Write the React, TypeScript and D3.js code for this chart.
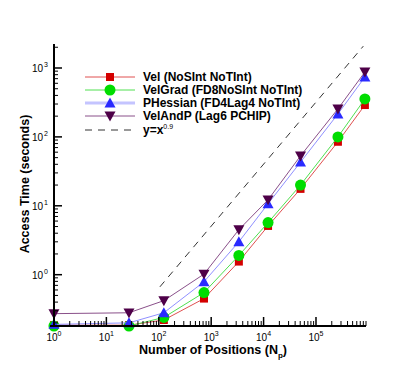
import * as d3 from 'd3';
import React from 'react';

const W = 415;
const H = 369;

// number of positions (x) and access time in seconds for each series
const positions = [1, 27, 125, 729, 3375, 12167, 50653, 262144, 857375];
const velTimes = [0.185, 0.185, 0.22, 0.45, 1.55, 5.1, 17.6, 85, 290];
const velGradTimes = [0.18, 0.18, 0.24, 0.55, 1.9, 5.7, 20, 100, 355];
const pHessianTimes = [0.19, 0.2, 0.28, 0.79, 3.0, 10.7, 43, 215, 740];
const velAndPTimes = [0.272, 0.28, 0.42, 1.02, 4.5, 12.2, 53, 255, 875];

const seriesLabels = [
  'Vel (NoSInt NoTInt)',
  'VelGrad (FD8NoSInt NoTInt)',
  'PHessian (FD4Lag4 NoTInt)',
  'VelAndP (Lag6 PCHIP)',
];

// reference curve y = c * x^0.9
const refCoef = 0.0101;
const refExp = 0.9;
const refRange = [105, 800000];

const xDecades = [0, 1, 2, 3, 4, 5];
const yDecades = [0, 1, 2, 3];

const FONT = '"Liberation Sans", Arial, Helvetica, sans-serif';

type Series = {
  label: string;
  values: number[];
  line: string;
  lineWidth: number;
  marker: string;
  shape: 'square' | 'circle' | 'up' | 'down';
};

const series: Series[] = [
  { label: seriesLabels[0], values: velTimes, line: '#e05050', lineWidth: 1, marker: '#d40000', shape: 'square' },
  { label: seriesLabels[1], values: velGradTimes, line: '#50e050', lineWidth: 1, marker: '#00dd00', shape: 'circle' },
  { label: seriesLabels[2], values: pHessianTimes, line: '#9090ff', lineWidth: 1, marker: '#2a2aff', shape: 'up' },
  { label: seriesLabels[3], values: velAndPTimes, line: '#8a508a', lineWidth: 1, marker: '#4e0048', shape: 'down' },
];

function Marker({ shape, x, y, color }: { shape: Series['shape']; x: number; y: number; color: string }) {
  if (shape === 'square') {
    return <rect x={x - 4} y={y - 4} width={8} height={8} fill={color} />;
  }
  if (shape === 'circle') {
    return <circle cx={x} cy={y} r={5.5} fill={color} />;
  }
  const s = 5.5;
  const pts =
    shape === 'up'
      ? `${x},${y - s} ${x + s},${y + s * 0.8} ${x - s},${y + s * 0.8}`
      : `${x},${y + s} ${x + s},${y - s * 0.8} ${x - s},${y - s * 0.8}`;
  return <polygon points={pts} fill={color} />;
}

export default function App() {
  const left = 54;
  const x = d3.scaleLog().domain([0.84, 900000]).range([50, 366]);
  const y = d3.scaleLog().domain([0.18, 2230]).range([326, 44]);

  const line = d3
    .line<[number, number]>()
    .x((d) => x(d[0]))
    .y((d) => y(d[1]));

  const refPts: [number, number][] = refRange.map((v) => [v, refCoef * Math.pow(v, refExp)]);

  const xMinor: number[] = [];
  xDecades.forEach((e) => {
    for (let k = 2; k <= 9; k++) {
      const v = k * Math.pow(10, e);
      if (v <= 900000) xMinor.push(v);
    }
  });
  const yMinor: number[] = [];
  [-1, ...yDecades].forEach((e) => {
    for (let k = 2; k <= 9; k++) {
      const v = k * Math.pow(10, e);
      if (v >= 0.18 && v <= 2230) yMinor.push(v);
    }
  });

  const legX0 = 85;
  const legX1 = 135;
  const legRows = [77, 90, 103, 116, 130];

  return (
    <svg
      width={W}
      height={H}
      style={{ position: 'absolute', left: 0, top: 0, background: '#fff' }}
      fontFamily={FONT}
    >
      {/* reference dashed line */}
      <path d={line(refPts) ?? ''} fill="none" stroke="#333" strokeWidth={1} strokeDasharray="7,6" />

      {/* series */}
      {series.map((s) => {
        const pts: [number, number][] = positions.map((p, i) => [p, s.values[i]]);
        return (
          <g key={s.label}>
            <path d={line(pts) ?? ''} fill="none" stroke={s.line} strokeWidth={s.lineWidth} />
            {pts.map((p, i) => (
              <Marker key={i} shape={s.shape} x={x(p[0])} y={y(p[1])} color={s.marker} />
            ))}
          </g>
        );
      })}

      {/* axes */}
      <line x1={left} x2={left} y1={44} y2={327} stroke="#000" strokeWidth={2} />
      <line x1={50} x2={366} y1={326} y2={326} stroke="#000" strokeWidth={2} />

      {xMinor.map((v) => (
        <line key={`xm${v}`} x1={x(v)} x2={x(v)} y1={326} y2={321} stroke="#000" strokeWidth={1} />
      ))}
      {xDecades.map((e) => (
        <g key={`xt${e}`}>
          <line x1={x(Math.pow(10, e))} x2={x(Math.pow(10, e))} y1={326} y2={317} stroke="#000" strokeWidth={1.5} />
          <text x={x(Math.pow(10, e))} y={341} fontSize={10} textAnchor="middle" fill="#000">
            10
            <tspan dy={-5} fontSize={7}>
              {e}
            </tspan>
          </text>
        </g>
      ))}

      {yMinor.map((v) => (
        <line key={`ym${v}`} x1={left} x2={left + 4} y1={y(v)} y2={y(v)} stroke="#000" strokeWidth={1} />
      ))}
      {yDecades.map((e) => (
        <g key={`yt${e}`}>
          <line x1={left} x2={left + 8} y1={y(Math.pow(10, e))} y2={y(Math.pow(10, e))} stroke="#000" strokeWidth={1.5} />
          <text x={43} y={y(Math.pow(10, e)) + 4} fontSize={10} textAnchor="end" fill="#000">
            10
          </text>
          <text x={44} y={y(Math.pow(10, e)) - 1} fontSize={7} fill="#000">
            {e}
          </text>
        </g>
      ))}

      {/* axis titles */}
      <text x={213} y={354} fontSize={12.5} fontWeight="bold" textAnchor="middle" fill="#000">
        Number of Positions (N
        <tspan dy={4} fontSize={8}>
          p
        </tspan>
        <tspan dy={-4}>)</tspan>
      </text>
      <text
        transform={`translate(29,184) rotate(-90)`}
        fontSize={12.5}
        fontWeight="bold"
        textAnchor="middle"
        fill="#000"
      >
        Access Time (seconds)
      </text>

      {/* legend */}
      {series.map((s, i) => (
        <g key={`leg${i}`}>
          <line
            x1={legX0}
            x2={legX1}
            y1={legRows[i]}
            y2={legRows[i]}
            stroke={i === 2 ? '#c4c4ff' : s.line}
            strokeWidth={i === 2 ? 3 : 1}
          />
          <Marker shape={s.shape} x={110} y={legRows[i]} color={s.marker} />
          <text x={143} y={legRows[i] + 4} fontSize={12} fontWeight="bold" fill="#000">
            {s.label}
          </text>
        </g>
      ))}
      <line x1={legX0} x2={legX1} y1={legRows[4]} y2={legRows[4]} stroke="#333" strokeDasharray="7,6" />
      <text x={143} y={legRows[4] + 4} fontSize={12} fontWeight="bold" fill="#000">
        y=x
        <tspan dy={-5} fontSize={7} fontWeight="normal">
          0.9
        </tspan>
      </text>
    </svg>
  );
}
